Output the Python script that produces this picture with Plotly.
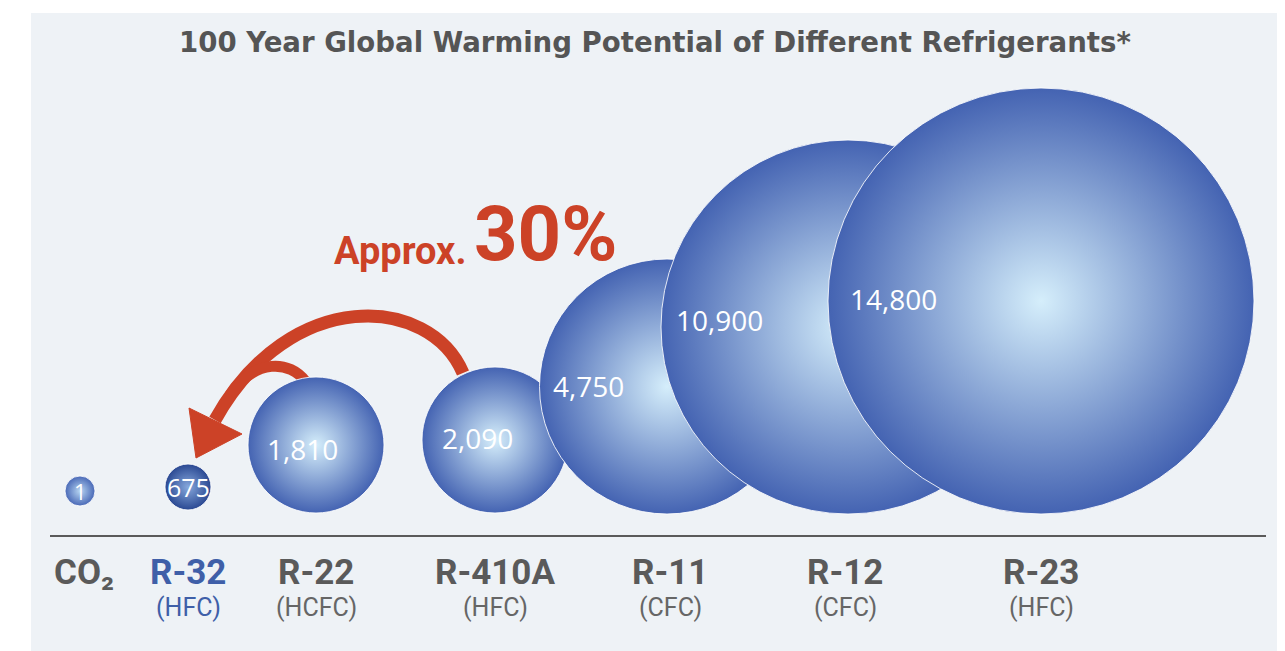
import plotly.graph_objects as go

# ---- data ----
refrigerants = ["CO₂", "R-32", "R-22", "R-410A", "R-11", "R-12", "R-23"]
families = ["", "(HFC)", "(HCFC)", "(HFC)", "(CFC)", "(CFC)", "(HFC)"]
gwp_values = [1, 675, 1810, 2090, 4750, 10900, 14800]
gwp_labels = ["1", "675", "1,810", "2,090", "4,750", "10,900", "14,800"]

# ---- layout / style (page pixel space; body has an 8px margin) ----
W, H = 1285, 651
OFF = 8
cat_x = [80, 188, 316, 495, 667, 848, 1041]
label_dx = [4, 0, 0, 0, 3, -3, 0]
bubble_diam = [30, 46, 136, 146, 255, 374, 426]
base_y = 514
lift = [8, 4, 1, 1, 0, 0, 0]
text_dx = [0, 0, -14, -18, -79, -129, -148]
text_dy = [0, 0, 4, -2, -1, -7, -2]
text_size = [22, 25, 28, 28, 28, 28, 28]
edge_col = ["#4868B6", "#2A4892", "#4463B2", "#4463B2", "#4463B2", "#4463B2", "#4463B2"]
center_col = ["#B8D6F2", "#86A8DC", "#D5EEFB", "#D5EEFB", "#D5EEFB", "#D5EEFB", "#D5EEFB"]

RED = "#CC4227"
GRAY = "#5A5A5A"
BLUE_TXT = "#3F5FA8"
COND = "Roboto, Liberation Sans, sans-serif"

cy = [base_y - d / 2 - l for d, l in zip(bubble_diam, lift)]

fig = go.Figure()
for i in range(len(gwp_values)):
    fig.add_trace(go.Scatter(
        x=[cat_x[i]], y=[cy[i]], mode="markers",
        marker=dict(size=bubble_diam[i], color=edge_col[i],
                    gradient=dict(type="radial", color=center_col[i]),
                    line=dict(color="rgba(255,255,255,0.85)", width=1)),
        hoverinfo="skip", showlegend=False, cliponaxis=False))

ann = []
# value labels
for i, lab in enumerate(gwp_labels):
    ann.append(dict(x=cat_x[i], y=cy[i], text=lab, showarrow=False,
                    xshift=text_dx[i], yshift=-text_dy[i],
                    font=dict(family="Open Sans, Noto Sans, sans-serif", size=text_size[i], color="white")))
# category labels
for i, name in enumerate(refrigerants):
    col = BLUE_TXT if name == "R-32" else GRAY
    ann.append(dict(x=cat_x[i] + label_dx[i], y=572, text="<b>%s</b>" % name, showarrow=False,
                    font=dict(family=COND, size=35, color=col)))
    if families[i]:
        ann.append(dict(x=cat_x[i] + label_dx[i], y=607, text=families[i], showarrow=False,
                        font=dict(family=COND, size=25, color=BLUE_TXT if name == "R-32" else "#666666")))
# title
ann.append(dict(x=655, y=42, text="<b>100 Year Global Warming Potential of Different Refrigerants*</b>",
                showarrow=False, font=dict(family="DejaVu Sans, sans-serif", size=27.6, color="#555555")))
# callout
ann.append(dict(x=468, y=275, text="<b>Approx.</b>", showarrow=False, xanchor="right", yanchor="bottom",
                font=dict(family=COND, size=38, color=RED)))
ann.append(dict(x=472, y=281, text="<b>30%</b>", showarrow=False, xanchor="left", yanchor="bottom",
                font=dict(family=COND, size=76, color=RED)))

shapes = [
    dict(type="rect", x0=OFF - 2, x1=31, y0=OFF - 2, y1=H + 2, fillcolor="white", line_width=0, layer="below"),
    dict(type="rect", x0=OFF - 2, x1=W + 2, y0=OFF - 2, y1=13, fillcolor="white", line_width=0, layer="below"),
    dict(type="line", x0=50, x1=1266, y0=536, y1=536, line=dict(color=GRAY, width=2), layer="below"),
    dict(type="path", path="M 463 373 C 430 295, 290 285, 215 420",
         line=dict(color=RED, width=13), fillcolor="rgba(0,0,0,0)", layer="below"),
    dict(type="path", path="M 306 382 C 290 360, 255 358, 230 395",
         line=dict(color=RED, width=11), fillcolor="rgba(0,0,0,0)", layer="below"),
    dict(type="path", path="M 189 408 L 242 434 L 196 458 Z",
         line=dict(color=RED, width=1), fillcolor=RED, layer="below"),
]

fig.update_layout(
    width=W - OFF, height=H - OFF, margin=dict(l=0, r=0, t=0, b=0),
    paper_bgcolor="#EEF2F6", plot_bgcolor="rgba(0,0,0,0)",
    xaxis=dict(range=[OFF, W], visible=False, fixedrange=True),
    yaxis=dict(range=[H, OFF], visible=False, fixedrange=True),
    annotations=ann, shapes=shapes, showlegend=False,
)
fig.write_html("out.html")
